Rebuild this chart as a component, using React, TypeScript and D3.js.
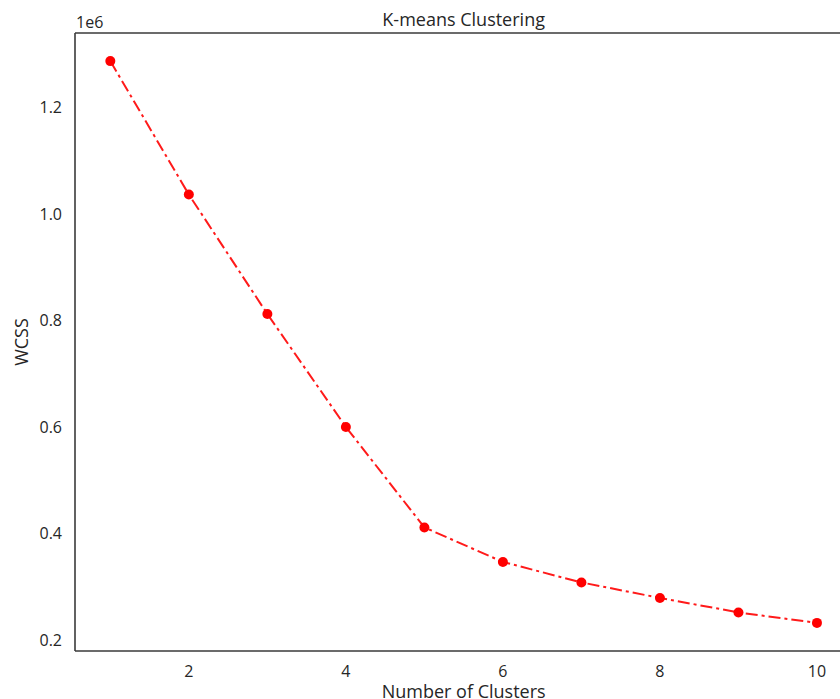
import React from "react";
import * as d3 from "d3";

const clusters = [1, 2, 3, 4, 5, 6, 7, 8, 9, 10];
const wcss = [1.2863e6, 1.0358e6, 0.8116e6, 0.5996e6, 0.4111e6, 0.3463e6, 0.3079e6, 0.2788e6, 0.2516e6, 0.2319e6];
const xTicks = [2, 4, 6, 8, 10];
const yTicks = [0.2e6, 0.4e6, 0.6e6, 0.8e6, 1.0e6, 1.2e6];

const W = 840;
const H = 699;
const FONT = "'Open Sans', 'Noto Sans', sans-serif";

export default function App() {
  const left = 75, right = 852.3, top = 33, bottom = 651;
  const xMin = d3.min(clusters)!, xMax = d3.max(clusters)!;
  const xPad = (xMax - xMin) * 0.05;
  const yMin = d3.min(wcss)!, yMax = d3.max(wcss)!;
  const yPad = (yMax - yMin) * 0.05;
  const x = d3.scaleLinear().domain([xMin - xPad, xMax + xPad]).range([left, right]);
  const y = d3.scaleLinear().domain([yMin - yPad, yMax + yPad]).range([bottom, top]);
  const line = d3.line<number>().x((_, i) => x(clusters[i])).y((d) => y(d));
  const textColor = "#262626";

  return (
    <svg width={W} height={H} style={{ position: "absolute", left: 0, top: 0, background: "#fff" }}>
      <rect x={0} y={0} width={W} height={H} fill="#fff" />
      <path d={line(wcss) || ""} fill="none" stroke="#ff1a1a" strokeWidth={2} strokeDasharray="12,4,3,4" />
      {wcss.map((d, i) => (
        <circle key={i} cx={x(clusters[i])} cy={y(d)} r={5} fill="#ff0000" />
      ))}
      <line x1={left} y1={top} x2={W} y2={top} stroke="#3a3a3a" strokeWidth={1.6} />
      <line x1={left} y1={top} x2={left} y2={bottom} stroke="#3a3a3a" strokeWidth={1.6} />
      <line x1={left} y1={bottom} x2={W} y2={bottom} stroke="#3a3a3a" strokeWidth={1.6} />
      {xTicks.map((t) => (
        <text key={t} x={x(t)} y={677} textAnchor="middle" fontFamily={FONT} fontSize={16} fill={textColor}>
          {t}
        </text>
      ))}
      {yTicks.map((t) => (
        <text key={t} x={62} y={y(t) + 6} textAnchor="end" fontFamily={FONT} fontSize={16} fill={textColor}>
          {(t / 1e6).toFixed(1)}
        </text>
      ))}
      <text x={76} y={28} fontFamily={FONT} fontSize={16} fill={textColor}>1e6</text>
      <text x={(left + right) / 2} y={26} textAnchor="middle" fontFamily={FONT} fontSize={18} fill={textColor}>
        K-means Clustering
      </text>
      <text x={(left + right) / 2} y={698} textAnchor="middle" fontFamily={FONT} fontSize={18} fill={textColor}>
        Number of Clusters
      </text>
      <text
        transform={`translate(28, ${(top + bottom) / 2}) rotate(-90)`}
        textAnchor="middle"
        fontFamily={FONT}
        fontSize={18}
        fill={textColor}
      >
        WCSS
      </text>
    </svg>
  );
}
